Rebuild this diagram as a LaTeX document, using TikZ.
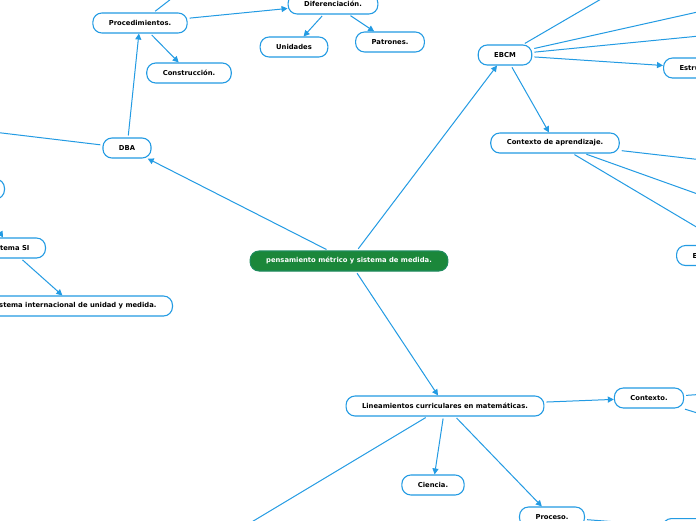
\documentclass[tikz,border=0pt]{standalone}
\usepackage{fontspec}
\setmainfont{DejaVu Sans}
\usetikzlibrary{arrows.meta}
\definecolor{lineblue}{HTML}{239BE3}
\definecolor{nodegreen}{HTML}{1B873A}
\begin{document}
\begin{tikzpicture}[x=1pt,y=-1pt,
 box/.style={draw=lineblue, line width=1.1pt, fill=white, rounded corners=9pt, inner xsep=16pt, inner ysep=0pt, minimum height=20pt, font=\fontsize{6.8}{7.5}\selectfont\bfseries, text=black},
 root/.style={box, fill=nodegreen, draw=nodegreen!80!lineblue, text=white},
 link/.style={draw=lineblue, line width=1pt, shorten <=2pt},
 arr/.style={link, -{Triangle[length=6pt,width=6pt]}}]
\useasboundingbox (0,0) rectangle (696,520);
\fill[white] (0,0) rectangle (696,520);
\clip (0,0) rectangle (696,520);
% nodes
\node[root] (root) at (349,261) {pensamiento métrico y sistema de medida.};
\node[box] (dba) at (127,148) {DBA};
\node[box] (proc) at (140,23) {Procedimientos.};
\node[box] (constr) at (189,73) {Construcción.};
\node[box] (dif) at (333,4) {Diferenciación.};
\node[box] (unid) at (294,47) {Unidades};
\node[box] (patr) at (390,42) {Patrones.};
\node[box] (ebcm) at (505,55) {EBCM};
\node[box, anchor=west] (estr) at (663,68) {Estructura.};
\node[box] (cda) at (555,143) {Contexto de aprendizaje.};
\node[box, anchor=west] (est) at (676,255.5) {Estándares.};
\node[box] (lin) at (445,406) {Lineamientos curriculares en matemáticas.};
\node[box] (ctx) at (649,398) {Contexto.};
\node[box] (cien) at (433,485) {Ciencia.};
\node[box] (proce) at (552,517) {Proceso.};
\node[box, anchor=north west, minimum width=80pt] (br) at (662,518) {};
\node[box, anchor=east, minimum width=60pt] (n1) at (5,189) {};
\node[box, anchor=east] (si) at (46,248) {Sistema SI};
\node[box, anchor=east] (siu) at (173,306) {Sistema internacional de unidad y medida.};
% free ends
\coordinate (dbaL) at (-40,128);
\coordinate (procU) at (180,-8);
\coordinate (ebcmA) at (620,-12);
\coordinate (ebcmB) at (720,7);
\coordinate (ebcmC) at (720,34);
\coordinate (cdaA) at (720,162);
\coordinate (cdaB) at (720,202);
\coordinate (cdaC) at (720,241);
\coordinate (linL) at (230,535);
\coordinate (ctxA) at (720,393);
\coordinate (ctxB) at (720,420);
% connectors
\draw[arr] (root) -- (dba);
\draw[arr] (root) -- (ebcm);
\draw[arr] (root) -- (lin);
\draw[link] (dba) -- (dbaL);
\draw[arr] (dba) -- (proc);
\draw[link] (proc) -- (procU);
\draw[arr] (proc) -- (dif);
\draw[arr] (proc) -- (constr);
\draw[arr] (dif) -- (unid);
\draw[arr] (dif) -- (patr);
\draw[link] (ebcm) -- (ebcmA);
\draw[link] (ebcm) -- (ebcmB);
\draw[link] (ebcm) -- (ebcmC);
\draw[arr] (ebcm) -- (estr);
\draw[arr] (ebcm) -- (cda);
\draw[link] (cda) -- (cdaA);
\draw[link] (cda) -- (cdaB);
\draw[link] (cda) -- (cdaC);
\draw[link] (lin) -- (linL);
\draw[arr] (lin) -- (cien);
\draw[arr] (lin) -- (proce);
\draw[arr] (lin) -- (ctx);
\draw[link] (ctx) -- (ctxA);
\draw[link] (ctx) -- (ctxB);
\draw[link] (proce) -- (br);
\draw[arr] (n1) -- (si);
\draw[arr] (si) -- (siu);
\end{tikzpicture}
\end{document}
